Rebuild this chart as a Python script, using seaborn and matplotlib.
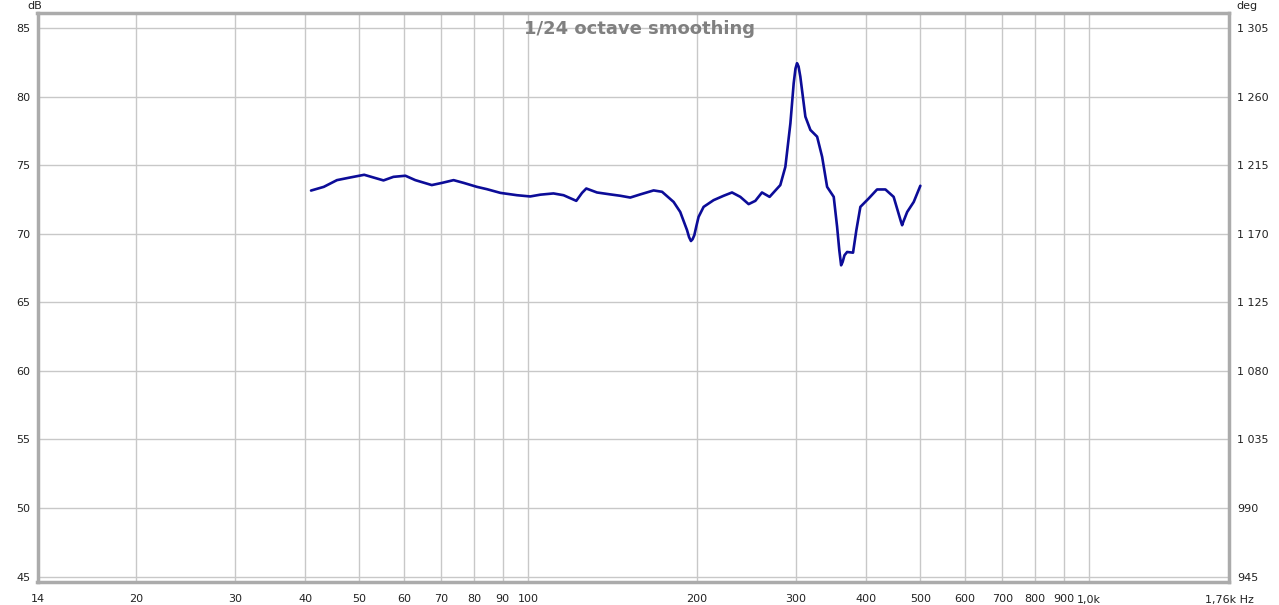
import matplotlib
matplotlib.use("Agg")
import matplotlib.pyplot as plt
import seaborn as sns
import pandas as pd

# ---- data ----
freq_hz = [41.0, 43.2, 45.6, 48.1, 51.0, 53.0, 55.2, 57.5, 60.4, 62.9, 67.3, 70.2,
           73.6, 76.7, 81.0, 84.4, 89.2, 95.5, 100.8, 105.1, 110.9, 115.6, 121.8,
           124.7, 126.9, 132.6, 140.0, 145.9, 152.0, 158.4, 167.3, 173.2, 181.6,
           186.6, 191.9, 193.5, 195.0, 196.3, 197.7, 199.5, 201.2, 205.4, 214.0,
           223.0, 230.8, 238.8, 247.1, 254.0, 261.0, 269.3, 281.4, 287.3, 293.3,
           297.3, 299.5, 301.4, 303.3, 305.5, 311.9, 318.4, 327.3, 334.1, 341.0,
           350.4, 355.3, 358.5, 361.2, 363.5, 366.2, 370.2, 379.3, 384.5, 390.9,
           404.4, 418.6, 433.2, 448.1, 462.0, 464.0, 466.0, 473.7, 486.6, 500.0]
spl_db = [73.15, 73.42, 73.91, 74.10, 74.30, 74.10, 73.89, 74.15, 74.23, 73.91,
          73.55, 73.71, 73.91, 73.71, 73.42, 73.25, 72.98, 72.81, 72.72, 72.85,
          72.94, 72.81, 72.40, 72.98, 73.30, 73.01, 72.87, 72.77, 72.64, 72.87,
          73.16, 73.06, 72.32, 71.59, 70.26, 69.75, 69.47, 69.60, 69.89, 70.60,
          71.23, 71.96, 72.45, 72.77, 73.01, 72.69, 72.16, 72.40, 73.01, 72.69,
          73.55, 74.88, 78.05, 80.98, 82.05, 82.44, 82.20, 81.46, 78.54, 77.57,
          77.08, 75.61, 73.42, 72.69, 70.50, 68.80, 67.70, 67.95, 68.43, 68.67,
          68.62, 70.26, 71.96, 72.57, 73.23, 73.23, 72.69, 70.85, 70.62, 70.85,
          71.59, 72.32, 73.50]

x_grid_ticks = [20, 30, 40, 50, 60, 70, 80, 90, 100, 200, 300, 400, 500, 600,
                700, 800, 900, 1000]
x_grid_labels = ["20", "30", "40", "50", "60", "70", "80", "90", "100", "200",
                 "300", "400", "500", "600", "700", "800", "900", "1,0k"]
x_edge_labels = ["14", "1,76k Hz"]
db_ticks = [45, 50, 55, 60, 65, 70, 75, 80, 85]
deg_ticks = [945, 990, 1035, 1080, 1125, 1170, 1215, 1260, 1305]
deg_labels = ["945", "990", "1 035", "1 080", "1 125", "1 170", "1 215", "1 260", "1 305"]
title_text = "1/24 octave smoothing"

# ---- figure ----
sns.set_theme(style="white")
plt.rcParams["font.family"] = ["DejaVu Sans"]

fig = plt.figure(figsize=(12.79, 6.05), dpi=100)
fig.patch.set_facecolor("white")
ax = fig.add_axes([37.5 / 1279, 23 / 605, 1191.5 / 1279, 569 / 605])
ax.set_facecolor("white")
ax.set_xscale("log")

xmin, xmax = 13.34, 1775
ymin, ymax = 44.6, 86.1
ax.set_xlim(xmin, xmax)
ax.set_ylim(ymin, ymax)

df = pd.DataFrame({"freq": freq_hz, "spl": spl_db})
sns.lineplot(data=df, x="freq", y="spl", ax=ax, color="#0c0c98", linewidth=1.9,
             sort=False, estimator=None, zorder=5)

# grid
for f in x_grid_ticks:
    ax.axvline(f, color="#c8c8c8", linewidth=1.0, zorder=1)
for d in db_ticks:
    ax.axhline(d, color="#c8c8c8", linewidth=1.0, zorder=1)

ax.set_xticks([xmin] + x_grid_ticks + [xmax])
ax.set_xticklabels([x_edge_labels[0]] + x_grid_labels + [x_edge_labels[1]])
ax.xaxis.set_minor_locator(matplotlib.ticker.NullLocator())
ax.set_yticks(db_ticks)
ax.set_yticklabels([str(d) for d in db_ticks])
ax.tick_params(axis="both", length=0, labelsize=8, colors="#222222")
ax.tick_params(axis="x", pad=9)
ax.tick_params(axis="y", pad=5)
ax.set_xlabel("")
ax.set_ylabel("")
ax.grid(False)

for s in ax.spines.values():
    s.set_color("#ababab")
    s.set_linewidth(2.5)

ax2 = ax.twinx()
ax2.set_ylim(945 + (ymin - 45) * 9, 945 + (ymax - 45) * 9)
ax2.set_yticks(deg_ticks)
ax2.set_yticklabels(deg_labels)
ax2.tick_params(axis="y", length=0, labelsize=8, colors="#222222", pad=6)
ax2.grid(False)
for s in ax2.spines.values():
    s.set_visible(False)

fig.text(27 / 1279, 1 - 6 / 605, "dB", ha="left", va="center", fontsize=8, color="#222222")
fig.text(1236 / 1279, 1 - 6 / 605, "deg", ha="left", va="center", fontsize=8, color="#222222")
fig.text(639 / 1279, 1 - 29 / 605, title_text, ha="center", va="center",
         fontsize=13, fontweight="bold", color="#808080")

fig.savefig("out.png", dpi=100, facecolor="white")
